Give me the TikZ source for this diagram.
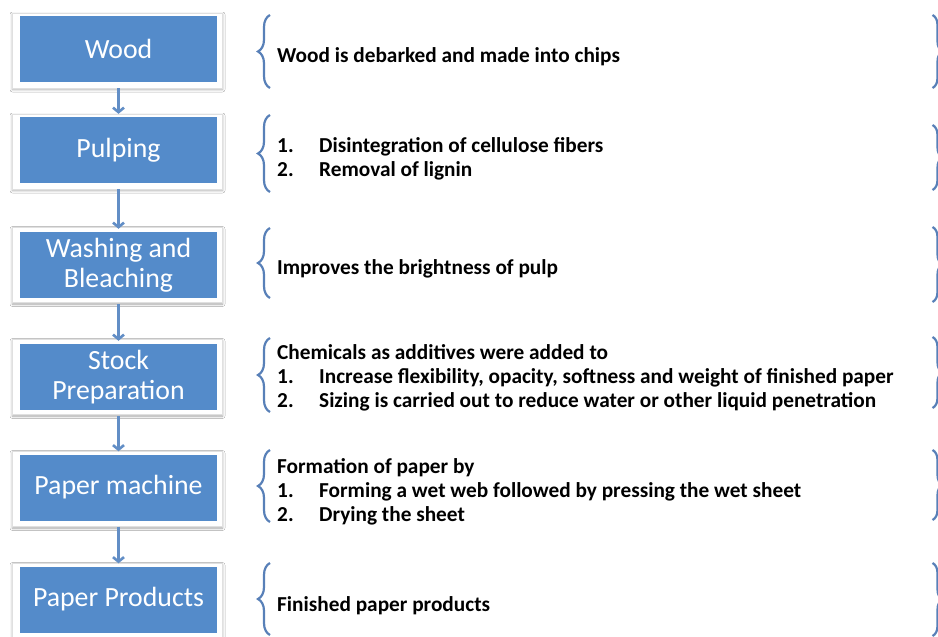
\documentclass[tikz,border=0pt]{standalone}
\usepackage{fontspec}
\setmainfont{Carlito}
\usetikzlibrary{decorations.pathreplacing,shadows.blur,arrows.meta,calc}
\definecolor{boxblue}{RGB}{84,139,202}
\definecolor{bracecol}{RGB}{88,128,184}
\definecolor{arrowcol}{RGB}{98,142,198}
\newcommand\numlab[1]{\makebox[42pt][l]{#1}}
\begin{document}
\begin{tikzpicture}[x=1pt,y=-1pt,
  stepbox/.style={fill=boxblue, minimum width=197pt, minimum height=66pt, inner sep=0pt,
    text=white, font=\fontsize{27.8}{30}\selectfont, align=center},
  frame/.style={fill=white, draw=black!12, line width=0.4pt,
    blur shadow={shadow xshift=0.5pt, shadow yshift=-1.5pt, shadow blur radius=2.5pt, shadow opacity=35}},
  desc/.style={anchor=base west, inner sep=0pt, align=left,
    font=\bfseries\fontsize{21.3}{24}\selectfont, text=black},
  flow/.style={arrowcol, line width=2.6pt, -{Straight Barb[length=4.5pt,width=11pt]}},
  brc/.style={bracecol, line width=2.2pt, decorate, decoration={brace, amplitude=12pt}},
  rbrc/.style={bracecol, line width=2.2pt, decorate, decoration={brace, amplitude=10pt}},
]
\useasboundingbox (0,0) rectangle (938,637);
\clip (0,0) rectangle (938,637);
\fill[white] (0,0) rectangle (938,637);

% frames
\foreach \c in {49,150,263.5,375.5,487.5,599.5}
  \filldraw[frame] (12,\c-36) rectangle (222,\c+39);

% step boxes
\node[stepbox] (wood) at (118.5,49) {Wood};
\node[stepbox] (pulp) at (118.5,150) {Pulping};
\node[stepbox] (wash) at (118.5,265) {Washing and\\Bleaching};
\node[stepbox] (stock) at (118.5,377) {Stock\\Preparation};
\node[stepbox] (mach) at (118.5,487.5) {Paper machine};
\node[stepbox] (prod) at (118.5,599.5) {Paper Products};

% arrows
\draw[flow] ([yshift=-6pt]wood.south) -- ([yshift=3pt]pulp.north);
\draw[flow] ([yshift=-6pt]pulp.south) -- ([yshift=3pt]wash.north);
\draw[flow] ([yshift=-6pt]wash.south) -- ([yshift=3pt]stock.north);
\draw[flow] ([yshift=-6pt]stock.south) -- ([yshift=3pt]mach.north);
\draw[flow] ([yshift=-6pt]mach.south) -- ([yshift=3pt]prod.north);

% descriptions (base = baseline of last line)
\node[desc] (dwood) at (277,62) {Wood is debarked and made into chips};
\node[desc] (dpulp) at (277,176) {\numlab{1.}Disintegration of cellulose fibers\\\numlab{2.}Removal of lignin};
\node[desc] (dwash) at (277,274) {Improves the brightness of pulp};
\node[desc] (dstock) at (277,407) {Chemicals as additives were added to\\\numlab{1.}Increase flexibility, opacity, softness and weight of finished paper\\\numlab{2.}Sizing is carried out to reduce water or other liquid penetration};
\node[desc] (dmach) at (277,521) {Formation of paper by\\\numlab{1.}Forming a wet web followed by pressing the wet sheet\\\numlab{2.}Drying the sheet};
\node[desc] (dprod) at (277,611) {Finished paper products};

% left braces
\draw[brc] (270,88) -- (270,15);
\draw[brc] (270,192) -- (270,115);
\draw[brc] (270,298) -- (270,228);
\draw[brc] (270,412) -- (270,338);
\draw[brc] (270,522) -- (270,450);
\draw[brc] (270,635) -- (270,563);
% right braces (cut by the picture edge)
\draw[rbrc] (932.5,15) -- (932.5,88);
\draw[rbrc] (932.5,125) -- (932.5,190);
\draw[rbrc] (932.5,227) -- (932.5,302);
\draw[rbrc] (932.5,337) -- (932.5,408);
\draw[rbrc] (932.5,450) -- (932.5,520);
\draw[rbrc] (932.5,563) -- (932.5,636);
\end{tikzpicture}
\end{document}
